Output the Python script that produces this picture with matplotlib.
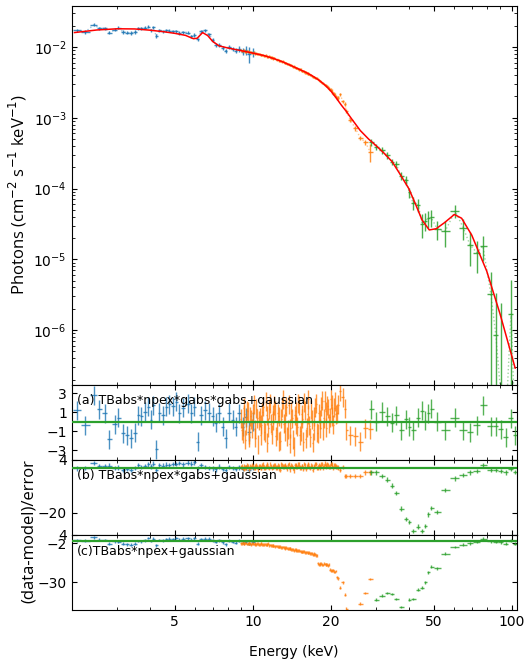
import numpy as np
import matplotlib
matplotlib.use('Agg')
import matplotlib.pyplot as plt
from matplotlib.ticker import FixedLocator, FixedFormatter, LogLocator, NullFormatter

# ---- data ----
# blue set (low energy)
blue_e = [2.10, 2.26, 2.43, 2.56, 2.70, 2.79, 2.94, 3.03, 3.16, 3.28,
          3.40, 3.52, 3.61, 3.71, 3.84, 3.95, 4.06, 4.12, 4.24, 4.35,
          4.51, 4.63, 4.75, 4.92, 5.06, 5.19, 5.38, 5.62, 5.78, 5.93,
          6.14, 6.31, 6.54, 6.77, 7.02, 7.21, 7.40, 7.67, 7.87, 8.09,
          8.38, 8.61, 8.84, 9.16, 9.40, 9.65, 10.0]
blue_f = [0.0172, 0.0164, 0.0205, 0.0185, 0.0184, 0.0160, 0.0176, 0.0186, 0.0163, 0.0160,
          0.0158, 0.0163, 0.0184, 0.0183, 0.0188, 0.0193, 0.0172, 0.0190, 0.0143, 0.0172,
          0.0168, 0.0172, 0.0170, 0.0166, 0.0168, 0.0158, 0.0163, 0.0160, 0.0142, 0.0148,
          0.0128, 0.0166, 0.0172, 0.0152, 0.0125, 0.0108, 0.0108, 0.0097, 0.0088, 0.0101,
          0.0094, 0.0089, 0.0095, 0.0086, 0.0090, 0.0080, 0.0084]
blue_ferr = [0.0009, 0.0009, 0.0010, 0.0009, 0.0009, 0.0009, 0.0009, 0.0009, 0.0009, 0.0009,
             0.0009, 0.0009, 0.0009, 0.0009, 0.0009, 0.0009, 0.0008, 0.0008, 0.0008, 0.0008,
             0.0008, 0.0008, 0.0008, 0.0008, 0.0008, 0.0008, 0.0008, 0.0008, 0.0008, 0.0008,
             0.0008, 0.0008, 0.0008, 0.0008, 0.0007, 0.0007, 0.0007, 0.0007, 0.0007, 0.0007,
             0.0007, 0.0008, 0.0009, 0.0010, 0.0012, 0.0020, 0.0012]
blue_ra = [1.2, -0.35, 2.8, 1.3, 0.9, -1.85, -0.25, 0.45, -1.2, -1.4,
           -1.75, -1.15, 0.7, 0.6, 1.05, 1.6, 0.2, 1.75, -2.9, 0.95,
           0.7, 1.6, 1.85, 1.65, 2.1, 0.9, 1.5, 1.9, 0.9, 1.6,
           -2.1, 0.7, 1.2, 0.95, 0.6, -0.1, 0.9, -0.5, -1.75, 0.95,
           0.2, -0.5, 0.9, -0.5, 0.5, -1.05, 0.0]
blue_rb = [0.0, 0.3, 2.4, 1.2, 1.1, 1.3, 0.1, 0.4, -0.5, -0.3,
           -0.6, 0.2, 1.4, 0.6, 1.0, 1.8, 0.9, 2.2, -0.8, 1.5,
           1.3, 1.7, 1.6, 2.0, 1.9, 2.4, 1.8, 2.6, 2.2, 2.7,
           0.3, 1.5, 0.6, 0.2, 0.0, -0.4, 0.8, -0.2, -0.6, 0.7,
           0.3, -0.3, 0.5, -0.2, 0.4, -0.5, 0.2]
blue_rc = [0.3, -0.2, 2.4, 0.6, 0.4, -2.4, -0.6, -0.9, -2.2, -2.6,
           -2.9, -2.3, -0.3, -0.5, 0.2, 1.9, -0.4, 1.2, -3.3, 0.4,
           0.1, 1.0, 1.3, 1.1, 1.8, 0.5, 1.2, 1.7, 0.6, 1.6,
           -2.4, 0.8, 1.4, 1.2, 0.3, -0.7, 0.2, -1.2, -2.7, 0.0,
           -0.8, -1.5, -0.2, -1.6, -0.7, -2.4, -1.2]

# orange set (middle energy)
orange_e = [9.0, 9.07, 9.14, 9.21, 9.28, 9.35, 9.42, 9.49, 9.56, 9.63,
            9.71, 9.78, 9.86, 9.93, 10.01, 10.08, 10.16, 10.24, 10.32, 10.39,
            10.47, 10.55, 10.63, 10.71, 10.8, 10.88, 10.96, 11.04, 11.13, 11.21,
            11.3, 11.38, 11.47, 11.56, 11.65, 11.74, 11.83, 11.92, 12.01, 12.1,
            12.19, 12.28, 12.38, 12.47, 12.57, 12.66, 12.76, 12.86, 12.96, 13.06,
            13.16, 13.26, 13.36, 13.46, 13.56, 13.66, 13.77, 13.87, 13.98, 14.08,
            14.19, 14.3, 14.41, 14.52, 14.63, 14.74, 14.86, 14.97, 15.09, 15.2,
            15.32, 15.43, 15.55, 15.67, 15.79, 15.91, 16.03, 16.15, 16.28, 16.4,
            16.53, 16.65, 16.78, 16.91, 17.04, 17.17, 17.3, 17.43, 17.56, 17.69,
            17.83, 17.96, 18.1, 18.24, 18.38, 18.52, 18.66, 18.8, 18.95, 19.09,
            19.24, 19.38, 19.53, 19.68, 19.83, 19.98, 20.14, 20.29, 20.45, 20.6,
            20.76, 20.92, 21.08,
            21.4, 21.8, 22.2, 22.6, 23.0, 23.8, 24.9, 26.0, 27.2, 28.4]
orange_f = [0.0091, 0.0088, 0.0087, 0.0090, 0.0089, 0.0085, 0.0086, 0.0088, 0.0088, 0.0084,
            0.0085, 0.0086, 0.0084, 0.0082, 0.0083, 0.0084, 0.0081, 0.0080, 0.0082, 0.0080,
            0.0079, 0.0080, 0.0079, 0.0077, 0.0077, 0.0078, 0.0077, 0.0075, 0.0075, 0.0076,
            0.0075, 0.0073, 0.0073, 0.0074, 0.0072, 0.0071, 0.0071, 0.0070, 0.0069, 0.0070,
            0.0069, 0.0067, 0.0066, 0.0067, 0.0066, 0.0064, 0.0064, 0.0063, 0.0062, 0.0063,
            0.0061, 0.0060, 0.0060, 0.0059, 0.0058, 0.0058, 0.0057, 0.0055, 0.0055, 0.0055,
            0.0054, 0.0052, 0.0053, 0.0052, 0.0051, 0.0050, 0.0050, 0.0049, 0.0048, 0.0049,
            0.0048, 0.0046, 0.0046, 0.0046, 0.0045, 0.0044, 0.0044, 0.0043, 0.0042, 0.0042,
            0.0042, 0.0040, 0.0040, 0.0039, 0.0038, 0.0038, 0.0038, 0.0036, 0.0036, 0.0036,
            0.0035, 0.0034, 0.0033, 0.0033, 0.0032, 0.0031, 0.0031, 0.0030, 0.0029, 0.0029,
            0.0028, 0.0028, 0.0027, 0.0026, 0.0025, 0.0025, 0.0024, 0.0023, 0.0022, 0.0022,
            0.0021, 0.0020, 0.0019,
            0.0019, 0.00215, 0.0017, 0.00155, 0.00125, 0.00092, 0.00071, 0.00052, 0.00045, 0.00033]
orange_ferr = [0.00025, 0.00025, 0.00025, 0.00025, 0.00025, 0.00025, 0.00025, 0.00025, 0.00025, 0.00025,
               0.00025, 0.00025, 0.00025, 0.00025, 0.00025, 0.00025, 0.00025, 0.00025, 0.00025, 0.00025,
               0.00025, 0.00025, 0.00025, 0.00025, 0.00025, 0.00025, 0.00025, 0.00025, 0.00025, 0.00025,
               0.00025, 0.00025, 0.00025, 0.00025, 0.00025, 0.00025, 0.00025, 0.00025, 0.00025, 0.00025,
               0.00018, 0.00018, 0.00018, 0.00018, 0.00018, 0.00018, 0.00018, 0.00018, 0.00018, 0.00018,
               0.00018, 0.00018, 0.00018, 0.00018, 0.00018, 0.00018, 0.00018, 0.00018, 0.00018, 0.00018,
               0.00018, 0.00018, 0.00018, 0.00018, 0.00018, 0.00018, 0.00018, 0.00018, 0.00018, 0.00018,
               0.00018, 0.00018, 0.00018, 0.00018, 0.00018, 0.00018, 0.00018, 0.00018, 0.00018, 0.00018,
               0.00012, 0.00012, 0.00012, 0.00012, 0.00012, 0.00012, 0.00012, 0.00012, 0.00012, 0.00012,
               0.00012, 0.00012, 0.00012, 0.00012, 0.00012, 0.00012, 0.00012, 0.00012, 0.00012, 0.00012,
               0.00012, 0.00012, 0.00012, 0.00012, 0.00012, 0.00012, 0.00012, 0.00012, 0.00012, 0.00012,
               0.00012, 0.00012, 0.00012,
               0.00010, 0.00010, 0.00010, 0.00010, 0.00008, 0.00006, 0.00005, 0.00004, 0.00004, 0.00009]
orange_ra = [0.3, -0.9, -1.2, 1.5, 0.8, -1.9, -0.4, 1.2, 1.1, -1.3,
             -1.6, 0.6, 0.2, -0.7, 0.9, 1.8, -0.8, -1.7, 1.4, 0.4,
             -2.4, 0.1, 0.5, -1.4, -0.3, 1.0, 1.6, -0.9, -1.1, 2.1,
             0.7, -2.2, -0.6, 1.3, 1.9, -0.2, -1.3, 0.8, 0.1, 1.7,
             1.2, -1.5, -0.9, 0.9, 0.6, -2.1, -2.0, 0.3, 1.5, 2.3,
             -0.2, -1.0, 0.9, 1.6, -1.5, -0.8, 1.8, -2.3, -0.7, 1.1,
             0.4, -1.9, -2.6, 0.7, 1.1, -0.3, -0.5, 1.9, 1.7, -1.4,
             -1.0, 0.8, 0.3, -2.1, 2.0, 1.2, -1.8, -0.6, 0.8, 2.4,
             -0.4, -1.6, 1.3, 0.2, -2.2, -0.9, 0.6, 1.5, 1.9, -1.1,
             -1.2, 0.9, 0.2, -0.7, 1.6, 2.2, -0.9, 0.4, 2.2, 1.1,
             -0.6, 1.7, 1.4, -0.2, 0.5, 2.4, 1.8, 0.6, -0.3, 1.5,
             2.1, 0.8, 0.9,
             1.8, 3.2, 2.6, 1.4, -0.9, -1.4, -1.5, -2.1, -0.7, -0.8]
orange_rb = [0.6, 0.9, 0.2, -0.2, 1.0, 0.5, 0.4, 1.3, 1.2, 0.1,
             -0.3, 0.8, 0.7, 1.4, 1.1, 0.2, 0.3, 0.9, 1.5, 0.6,
             -0.8, 1.2, 0.9, 0.3, 0.5, 1.6, 1.7, 0.4, 0.1, 0.8,
             1.2, 2.0, 0.6, 0.2, 2.0, 1.1, 0.2, 0.7, 0.9, 1.5,
             1.4, 0.5, 0.4, 1.3, 1.1, 0.0, -0.6, 1.8, 1.6, 0.9,
             0.8, 1.2, 1.3, 0.6, 0.0, 1.5, 1.9, -0.4, 0.7, 1.3,
             1.0, 0.2, -0.9, 1.4, 1.5, 0.9, 0.6, 1.7, 1.8, 0.5,
             0.3, 1.0, 1.1, -0.1, 2.1, 1.6, -0.2, 0.8, 1.3, 2.0,
             0.7, 0.2, 1.6, 1.1, -0.5, 0.6, 1.2, 1.9, 2.0, 0.3,
             0.4, 1.4, 0.9, 0.5, 1.7, 2.1, 0.5, 1.2, 2.2, 1.6,
             0.6, 1.8, 1.4, 0.7, 0.8, 2.0, 1.9, 1.1, 0.3, 1.5,
             1.5, 0.9, 0.7,
             0.4, -0.8, 0.6, -3.3, -3.3, -3.3, -3.3, -3.3, -1.8, -1.8]
orange_rc = [-1.9, -2.1, -1.6, -2.3, -2.2, -1.7, -1.8, -2.5, -2.4, -1.9,
             -2.0, -2.2, -2.6, -2.0, -2.1, -2.5, -2.3, -2.7, -2.8, -2.2,
             -2.4, -2.9, -2.6, -2.3, -2.2, -2.8, -3.0, -2.6, -2.5, -3.1,
             -2.9, -2.7, -2.4, -3.3, -3.2, -3.4, -3.5, -3.6, -3.8, -4.0,
             -4.2, -4.0, -3.9, -4.5, -4.6, -4.3, -4.4, -4.9, -5.0, -4.7,
             -4.8, -5.2, -5.5, -5.1, -5.3, -5.8, -6.0, -5.6, -5.8, -6.2,
             -6.4, -6.7, -6.9, -6.5, -6.6, -7.0, -7.3, -6.9, -7.1, -7.5,
             -7.8, -8.0, -8.2, -7.7, -7.9, -8.4, -8.6, -8.3, -9.0, -8.8,
             -8.7, -9.2, -9.4, -9.1, -9.9, -10.2, -9.6, -10.0, -10.5, -10.8,
             -16.5, -17.0, -17.2, -16.6, -16.8, -17.4, -17.6, -16.7, -16.9, -17.1,
             -17.3, -17.5, -17.8, -17.2, -21.0, -21.5, -22.0, -21.2, -21.4, -22.3,
             -22.6, -22.0, -26.5,
             -27.2, -34.0, -30.0, -39.0, -49.0, -58.0, -62.0, -45.4, -37.8, -27.7]

# green set (high energy)
green_e = [28.7, 30.0, 31.6, 33.0, 34.5, 35.8, 37.4, 39.1, 40.2, 41.6,
           43.5, 45.1, 46.3, 47.5, 48.8, 51.5, 55.3, 60.4, 64.9, 68.9,
           73.3, 77.3, 83.0, 86.7, 90.7, 94.8, 99.2, 102.8]
green_f = [4.55e-4, 3.9e-4, 3.47e-4, 2.94e-4, 2.37e-4, 2.2e-4, 1.5e-4, 1.3e-4, 8.8e-5, 6.2e-5,
           5.8e-5, 3.2e-5, 3.5e-5, 3.8e-5, 3.9e-5, 2.7e-5, 2.5e-5, 4.8e-5, 2.8e-5, 1.6e-5,
           1.24e-5, 1.54e-5, 3.2e-6, 8.6e-7, 1.2e-7, 5e-8, 1.7e-6, 5e-8]
green_ferr = [5e-5, 4e-5, 3.5e-5, 3e-5, 2.5e-5, 2.5e-5, 2e-5, 1.8e-5, 1.5e-5, 1.3e-5,
              1.2e-5, 1.2e-5, 1.0e-5, 1.0e-5, 1.0e-5, 0.8e-5, 1.0e-5, 1.0e-5, 0.9e-5, 0.8e-5,
              0.6e-5, 0.6e-5, 3.5e-6, 2.5e-6, 2.3e-6, 5e-8, 3.4e-6, 5e-8]
green_ra = [1.3, 0.0, 1.05, 0.6, -0.1, 0.7, -0.9, 0.25, -0.5, -0.9,
            0.45, 1.15, 0.1, 0.9, 1.4, 0.0, -0.9, 0.45, -0.9, -1.1,
            -0.35, 1.75, -0.45, -0.45, -0.8, -1.6, 0.35, -1.4]
green_rb = [-1.8, -1.8, -3.3, -5.1, -7.8, -11.2, -18.1, -22.9, -24.1, -28.2,
            -26.2, -28.2, -25.9, -20.7, -17.9, -19.6, -9.7, -4.5, -3.0, -1.8,
            -1.1, 1.5, -0.6, -0.6, -1.1, -1.8, -0.3, -1.5]
green_rc = [-52.0, -42.5, -39.7, -37.8, -38.5, -42.0, -47.8, -51.0, -42.5, -42.0,
            -35.5, -33.8, -30.0, -22.9, -18.9, -20.1, -9.5, -4.7, -3.1, -1.9,
            -0.7, 1.2, -0.5, -0.7, -1.2, -2.4, 0.0, -2.4]

# model curve (red)
model_e = [2.05, 2.5, 3.0, 3.5, 4.0, 4.5, 5.0, 5.5, 5.9, 6.1,
           6.4, 6.7, 7.0, 7.4, 8.0, 9.0, 10.0, 11.0, 12.0, 13.0,
           14.0, 15.0, 16.0, 17.0, 18.0, 19.0, 20.0, 21.0, 22.0, 23.0,
           24.0, 26.0, 28.0, 30.0, 32.0, 34.5, 37.0, 40.0, 42.5, 45.0,
           48.0, 51.0, 55.0, 60.0, 64.0, 70.0, 75.0, 80.0, 90.0, 103.0]
model_f = [0.0160, 0.0174, 0.0181, 0.0180, 0.0173, 0.0165, 0.0156, 0.0146, 0.0131, 0.0133,
           0.0160, 0.0145, 0.0120, 0.0104, 0.0097, 0.0089, 0.0082, 0.0076, 0.0069, 0.0062,
           0.0055, 0.0049, 0.0044, 0.0039, 0.0034, 0.0029, 0.0024, 0.0019, 0.0015, 0.00122,
           0.00098, 0.00066, 0.00050, 0.00040, 0.00032, 0.00024, 0.00016, 0.000100, 0.000060, 0.000036,
           0.000026, 0.000027, 0.000033, 0.000043, 0.000038, 0.000022, 0.000012, 0.0000068, 0.0000017, 0.00000029]

panel_labels = ['(a) TBabs*npex*gabs*gabs+gaussian',
                '(b) TBabs*npex*gabs+gaussian',
                '(c)TBabs*npex+gaussian']
x_ticks = [5, 10, 20, 50, 100]


def half_bins(e):
    # bin half widths from the midpoints (in log) between neighbouring channels
    le = np.log10(np.asarray(e, dtype=float))
    mid = (le[1:] + le[:-1]) / 2
    lo = np.concatenate([[2 * le[0] - mid[0]], mid])
    hi = np.concatenate([mid, [2 * le[-1] - mid[-1]]])
    return np.vstack([10 ** le - 10 ** lo, 10 ** hi - 10 ** le])


fig = plt.figure(figsize=(5.3, 6.65), dpi=100)
L, W = 0.1353, 0.8408
ax0 = fig.add_axes([L, 0.4218, W, 0.5692])
axa = fig.add_axes([L, 0.3090, W, 0.1128], sharex=ax0)
axb = fig.add_axes([L, 0.1955, W, 0.1135], sharex=ax0)
axc = fig.add_axes([L, 0.0827, W, 0.1128], sharex=ax0)
res_axes = [axa, axb, axc]

sets = [
    (blue_e, blue_f, blue_ferr, [blue_ra, blue_rb, blue_rc], 'C0'),
    (orange_e, orange_f, orange_ferr, [orange_ra, orange_rb, orange_rc], 'C1'),
    (green_e, green_f, green_ferr, [green_ra, green_rb, green_rc], 'C2'),
]

ax0.set_xscale('log')
ax0.set_yscale('log')
for e, f, ferr, res, c in sets:
    xe = half_bins(e)
    ax0.plot(e, f, ls=':', color=c, lw=1, alpha=0.45)
    ax0.errorbar(e, f, xerr=xe, yerr=ferr, fmt='none', ecolor=c,
                 elinewidth=1.0, alpha=0.85)
    for ax, r in zip(res_axes, res):
        ax.errorbar(e, r, xerr=xe, yerr=1, fmt='none', ecolor=c,
                    elinewidth=1.0, alpha=0.8)

ax0.plot(model_e, model_f, color='red', lw=1.1, zorder=5)
ax0.set_ylim(1.7e-7, 0.038)

for ax, lab in zip(res_axes, panel_labels):
    ax.axhline(0, color='C2', lw=1.6, zorder=6)
    ax.text(0.011, 0.785, lab, transform=ax.transAxes, fontsize=9, va='center')

axa.set_ylim(-3.97, 3.93)
axa.set_yticks([3, 1, -1, -3])
axb.set_ylim(-30, 4)
axb.set_yticks([4, -20])
axc.set_ylim(-50, 4)
axc.set_yticks([4, -2, -30])

axc.set_xlim(2.0, 105)
axc.xaxis.set_major_locator(FixedLocator(x_ticks))
axc.xaxis.set_major_formatter(FixedFormatter([str(t) for t in x_ticks]))
axc.xaxis.set_minor_locator(LogLocator(base=10, subs=np.arange(2, 10), numticks=20))
axc.xaxis.set_minor_formatter(NullFormatter())

for ax in [ax0] + res_axes:
    ax.tick_params(which='both', direction='in', top=True, right=True)
for ax in [ax0, axa, axb]:
    ax.tick_params(labelbottom=False)

fig.text(18 / 530, 1 - 194 / 665, 'Photons (cm$^{-2}$ s$^{-1}$ keV$^{-1}$)',
         rotation=90, ha='center', va='center', fontsize=12, family='Open Sans')
fig.text(29 / 530, 1 - 531 / 665, '(data-model)/error',
         rotation=90, ha='center', va='center', fontsize=12, family='Open Sans')
fig.text(294 / 530, 1 - 652 / 665, 'Energy (keV)', ha='center', va='center', fontsize=10)

fig.savefig('out.png', dpi=100)
